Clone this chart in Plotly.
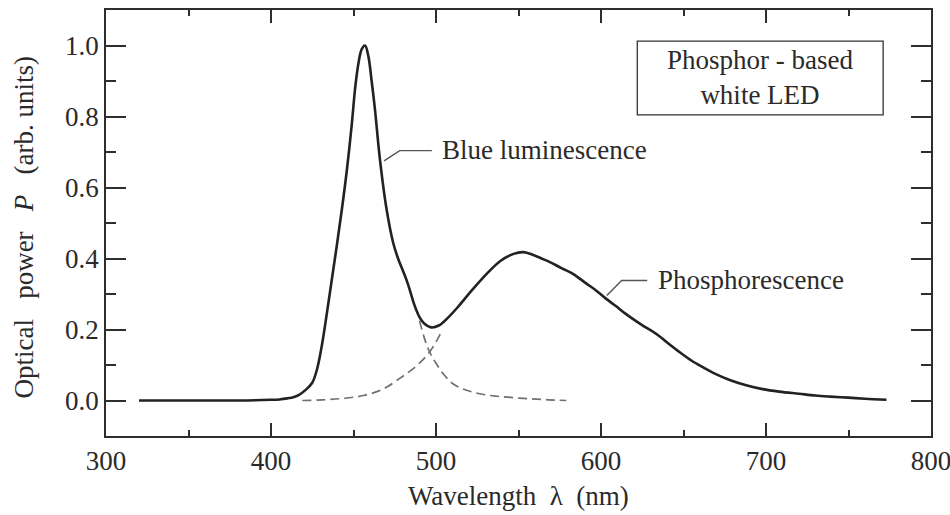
import plotly.graph_objects as go

# ---- data ----
total_wl = [320, 350, 380, 400, 405, 410, 414, 417, 421, 425, 428, 431, 434, 437, 440, 443, 446,
            449, 451, 453, 455, 457, 459, 461, 463, 466, 470, 474, 477, 480, 483, 487, 490, 493,
            497, 502, 507, 513, 518, 523, 531, 539, 547, 553, 559, 564, 569, 576, 583, 591,
            597, 603, 609, 615, 624, 634, 641, 648, 655, 662, 668, 678, 688, 698, 708, 720, 730,
            739, 750, 760, 773]
total_p = [0.0, 0.0, 0.0, 0.002, 0.003, 0.006, 0.01, 0.016, 0.03, 0.05, 0.09, 0.16, 0.25, 0.345,
           0.44, 0.54, 0.65, 0.78, 0.88, 0.95, 0.99, 1.0, 0.97, 0.9, 0.82, 0.68, 0.54, 0.445,
           0.4, 0.365, 0.328, 0.268, 0.235, 0.216, 0.206, 0.212, 0.232, 0.262, 0.29, 0.317,
           0.358, 0.393, 0.413, 0.418, 0.41, 0.4, 0.39, 0.373, 0.357, 0.33, 0.31, 0.287, 0.266,
           0.244, 0.215, 0.186, 0.16, 0.135, 0.112, 0.093, 0.078, 0.058, 0.043, 0.032, 0.025,
           0.019, 0.014, 0.011, 0.008, 0.005, 0.002]

blue_wl = [490, 493, 496, 500, 505, 510, 516, 522, 530, 537, 547, 557, 568, 579]
blue_p = [0.225, 0.175, 0.138, 0.105, 0.072, 0.048, 0.033, 0.024, 0.016, 0.012, 0.008, 0.005, 0.002, 0.0]

phos_wl = [419, 428, 436, 446, 456, 466, 471, 476, 481, 486, 491, 496, 500, 504]
phos_p = [0.0, 0.001, 0.003, 0.007, 0.014, 0.028, 0.04, 0.056, 0.072, 0.089, 0.11, 0.136, 0.165, 0.2]

x_ticks = [300, 400, 500, 600, 700, 800]
y_ticks = [0.0, 0.2, 0.4, 0.6, 0.8, 1.0]
y_tick_labels = ["0.0", "0.2", "0.4", "0.6", "0.8", "1.0"]

FONT = "Liberation Serif"
FS = 27
INK = "#222222"
TXT = "#2a2a2a"
AX = "#2e2e2e"
DASH = "#707070"

fig = go.Figure()
fig.add_trace(go.Scatter(x=phos_wl, y=phos_p, mode="lines",
                         line=dict(color=DASH, width=1.7, dash="9px,5px"),
                         line_shape="spline", showlegend=False, hoverinfo="skip"))
fig.add_trace(go.Scatter(x=blue_wl, y=blue_p, mode="lines",
                         line=dict(color=DASH, width=1.7, dash="9px,5px"),
                         line_shape="spline", showlegend=False, hoverinfo="skip"))
fig.add_trace(go.Scatter(x=total_wl, y=total_p, mode="lines",
                         line=dict(color=INK, width=2.6),
                         line_shape="spline", showlegend=False))

# leader lines
fig.add_shape(type="path", path="M 468.5 0.675 L 478 0.704 L 497.5 0.704",
              line=dict(color="#555555", width=1.4), xref="x", yref="y")
fig.add_shape(type="path", path="M 603.5 0.296 L 612.5 0.338 L 628 0.338",
              line=dict(color="#555555", width=1.4), xref="x", yref="y")

fig.add_annotation(x=502.5, y=0.705, xref="x", yref="y", text="Blue luminescence",
                   showarrow=False, xanchor="left", yanchor="middle",
                   font=dict(family=FONT, size=FS, color=TXT))
fig.add_annotation(x=633.5, y=0.34, xref="x", yref="y", text="Phosphorescence",
                   showarrow=False, xanchor="left", yanchor="middle",
                   font=dict(family=FONT, size=FS, color=TXT))

# inset box
fig.add_shape(type="rect", xref="paper", yref="paper",
              x0=0.644, x1=0.942, y0=0.754, y1=0.927,
              line=dict(color="#333333", width=1.3), fillcolor="rgba(0,0,0,0)")
fig.add_annotation(x=0.793, y=0.842, xref="paper", yref="paper",
                   text="Phosphor - based<br>white LED", showarrow=False,
                   xanchor="center", yanchor="middle", align="center",
                   font=dict(family=FONT, size=FS, color=TXT))

# axis titles
fig.add_annotation(x=0.5, y=-0.14, xref="paper", yref="paper",
                   text="Wavelength\u00a0 \u03bb\u00a0 (nm)", showarrow=False,
                   xanchor="center", yanchor="middle",
                   font=dict(family=FONT, size=FS, color=TXT))
fig.add_annotation(x=-0.099, y=0.49, xref="paper", yref="paper",
                   text="Optical\u00a0\u00a0 power\u00a0\u00a0 <i>P</i>\u00a0\u00a0 (arb. units)",
                   showarrow=False, textangle=-90, xanchor="center", yanchor="middle",
                   font=dict(family=FONT, size=FS, color=TXT))

fig.update_layout(
    width=950, height=515,
    margin=dict(l=106, r=19, t=10, b=79),
    paper_bgcolor="white", plot_bgcolor="white",
    font=dict(family=FONT, size=FS, color=TXT),
    xaxis=dict(range=[300, 800], tickvals=x_ticks, ticks="inside", ticklen=13,
               tickwidth=1.5, tickcolor=AX, showline=True, linecolor=AX, linewidth=1.8,
               mirror="allticks", showgrid=False, zeroline=False, automargin=False,
               ticklabeloverflow="allow",
               minor=dict(dtick=50, ticks="inside", ticklen=6, tickwidth=1.5, tickcolor=AX,
                          showgrid=False),
               tickfont=dict(family=FONT, size=FS, color=TXT)),
    yaxis=dict(range=[-0.1, 1.1], tickvals=y_ticks, ticktext=y_tick_labels,
               ticks="inside", ticklen=20, tickwidth=1.5, tickcolor=AX,
               showline=True, linecolor=AX, linewidth=1.8, mirror="allticks",
               showgrid=False, zeroline=False, automargin=False,
               minor=dict(dtick=0.1, tick0=0, ticks="inside", ticklen=10, tickwidth=1.5,
                          tickcolor=AX, showgrid=False),
               tickfont=dict(family=FONT, size=FS, color=TXT)),
)

# remove the default 8px page margin so the 950x515 figure fills the window exactly
fig.write_html("out.html", config={"displayModeBar": False},
               post_script="document.body.style.margin='0';document.body.style.overflow='hidden';")
